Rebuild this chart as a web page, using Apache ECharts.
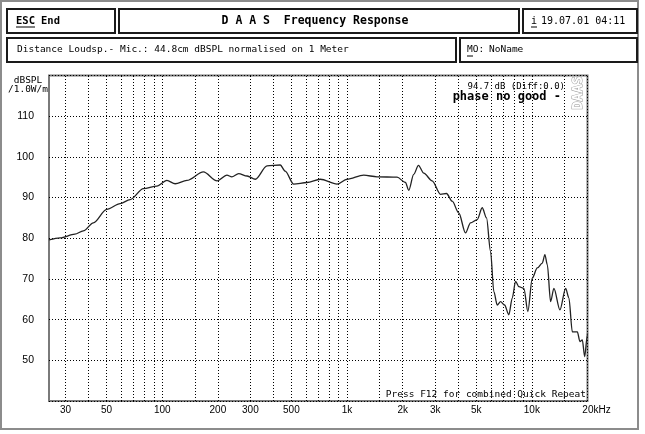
<!DOCTYPE html>
<html><head><meta charset="utf-8">
<script src="https://cdn.jsdelivr.net/npm/echarts@6/dist/echarts.min.js"></script>
<style>html,body{margin:0;padding:0;background:#fff}#c{width:645px;height:434px}</style>
</head><body><div id="c"></div>
<script>
const freqs = [24.4, 28, 33.7, 37.4, 42.4, 50.1, 59.2, 67, 79.1, 93.5, 106, 117.5, 136, 167, 198, 224, 238, 259, 288, 319, 369, 435, 463, 514, 607, 717, 883, 1000, 1230, 1454, 1865, 2070, 2157, 2295, 2434, 2601, 2887, 3204, 3452, 3706, 4024, 4375, 4656, 5063, 5388, 5685, 5975, 6227, 6496, 6769, 7115, 7508, 7832, 8162, 8506, 9052, 9514, 10053, 10699, 11387, 11763, 12122, 12629, 13161, 14186, 15230, 15867, 16555, 17622, 18200, 18754, 19303, 19962, 20000];
const levels = [79.6, 80.1, 81.0, 81.8, 83.8, 87.1, 88.5, 89.5, 92.2, 92.8, 94.2, 93.4, 94.2, 96.3, 94.1, 95.5, 95.1, 95.9, 95.3, 94.5, 97.8, 98.0, 96.5, 93.3, 93.7, 94.5, 93.3, 94.5, 95.5, 95.1, 95.0, 93.7, 91.8, 95.7, 97.9, 96.0, 94.1, 90.8, 91.0, 89.1, 86.2, 81.3, 83.8, 84.6, 87.5, 85.0, 76.8, 66.9, 63.6, 64.4, 63.6, 61.2, 65.3, 69.4, 68.1, 67.7, 62.0, 70.2, 72.7, 73.9, 76.0, 73.5, 64.4, 67.7, 62.4, 67.7, 65.3, 57.0, 57.0, 54.6, 55.0, 50.9, 56.2, 56.6];
const gridFreqs = [30, 40, 50, 60, 70, 80, 90, 100, 150, 200, 300, 400, 500, 600, 700, 800, 900, 1000, 1500, 2000, 3000, 4000, 5000, 6000, 7000, 8000, 9000, 10000, 15000];
const tickFreqs = [30, 50, 100, 200, 300, 500, 1000, 2000, 3000, 5000, 10000, 20000];
const tickLabels = ['30', '50', '100', '200', '300', '500', '1k', '2k', '3k', '5k', '10k', '20kHz'];
const yLabels = [50, 60, 70, 80, 90, 100, 110];

const MONO = '"DejaVu Sans Mono", monospace';
const SANS = '"Liberation Sans", Arial, sans-serif';
const dotted = {type: [1, 2], color: '#000', width: 1};

const allFreqs = Array.from(new Set(gridFreqs.concat(tickFreqs))).sort((a, b) => a - b);
const markData = allFreqs.map(f => {
  const ti = tickFreqs.indexOf(f);
  const item = {xAxis: f};
  if (ti >= 0) {
    const t = tickLabels[ti];
    item.label = {
      show: true, position: 'start', distance: 4,
      formatter: t.indexOf('Hz') > 0 ? '{a|' + t + '}' : t,
      rich: {a: {padding: [0, 0, 0, 18], fontSize: 10, fontFamily: SANS, color: '#000'}},
      color: '#000', fontSize: 10, fontFamily: SANS
    };
  } else {
    item.label = {show: false};
  }
  return item;
});

function box(x, y, w, h) {
  return {type: 'rect', shape: {x: x, y: y, width: w, height: h},
    style: {fill: '#fff', stroke: '#1a1a1a', lineWidth: 2}, z: 10};
}
function txt(x, y, s, font, align, extra) {
  return Object.assign({type: 'text', x: x, y: y, z: 11,
    style: {text: s, font: font, fill: '#000', align: align || 'left', verticalAlign: 'middle'}}, extra || {});
}
function uline(x1, x2, y) {
  return {type: 'line', shape: {x1: x1, y1: y, x2: x2, y2: y}, style: {stroke: '#000', lineWidth: 1}, z: 11};
}

const chart = echarts.init(document.getElementById('c'), null, {renderer: 'canvas'});
chart.setOption({
  animation: false,
  backgroundColor: '#fff',
  grid: {left: 49, right: 57.5, top: 75.5, bottom: 33, show: true, borderColor: '#7a7a7a', borderWidth: 2, backgroundColor: '#fff'},
  xAxis: {
    type: 'log', logBase: 10, min: 24.4, max: 20001,
    axisLine: {show: false}, axisTick: {show: false}, axisLabel: {show: false},
    splitLine: {show: false}, minorSplitLine: {show: false}
  },
  yAxis: {
    type: 'value', min: 40, max: 120, interval: 10,
    axisLine: {show: false}, axisTick: {show: false},
    axisLabel: {
      color: '#000', fontSize: 10.5, fontFamily: SANS, margin: 15,
      formatter: v => (yLabels.indexOf(v) >= 0 ? String(v) : '')
    },
    splitLine: {show: true, lineStyle: dotted}
  },
  series: [{
    type: 'line',
    data: freqs.map((f, i) => [f, levels[i]]),
    showSymbol: false,
    smooth: 0.3,
    smoothMonotone: 'x',
    lineStyle: {color: '#222', width: 1.3},
    clip: true,
    z: 5,
    markLine: {
      silent: true, symbol: ['none', 'none'], animation: false,
      lineStyle: dotted,
      emphasis: {disabled: true},
      z: 2,
      data: markData
    }
  }],
  graphic: [
    {type: 'rect', shape: {x: 1, y: 1, width: 637, height: 428}, style: {fill: 'none', stroke: '#8c8c8c', lineWidth: 2}, z: 9},
    box(7, 9, 108, 24),
    txt(16, 21, 'ESC', 'bold 10.5px ' + MONO), uline(16, 35, 27),
    txt(41, 21, 'End', 'bold 10.5px ' + MONO),
    box(119, 9, 400, 24),
    txt(315, 21, 'D A A S  Frequency Response', 'bold 11.5px ' + MONO, 'center'),
    box(523, 9, 114, 24),
    txt(531, 21, 'i', '10px ' + MONO), uline(531, 537, 27),
    txt(541, 21, '19.07.01 04:11', '10px ' + MONO),
    box(7, 38, 449, 24),
    txt(17, 50, 'Distance Loudsp.- Mic.: 44.8cm dBSPL normalised on 1 Meter', '9.5px ' + MONO),
    box(460, 38, 177, 24),
    txt(467, 50, 'MO:', '9.5px ' + MONO), uline(467, 473, 56),
    txt(489, 50, 'NoName', '9.5px ' + MONO),
    txt(28, 81, 'dBSPL', '9.5px ' + MONO, 'center'),
    txt(28, 90, '/1.0W/m', '9.5px ' + MONO, 'center'),
    txt(565, 87, '94.7 dB (Diff:0.0)', '9px ' + MONO, 'right'),
    txt(561, 97, 'phase no good -', 'bold 12px ' + MONO, 'right'),
    {type: 'text', x: 578, y: 93, rotation: Math.PI / 2, z: 11,
      style: {text: 'DAAS', font: 'bold 14px ' + MONO, fill: '#fff', stroke: '#9a9a9a', lineWidth: 1, align: 'center', verticalAlign: 'middle'}},
    txt(586, 395, 'Press F12 for combined Quick Repeat', '9.5px ' + MONO, 'right')
  ]
});
</script>
</body></html>
